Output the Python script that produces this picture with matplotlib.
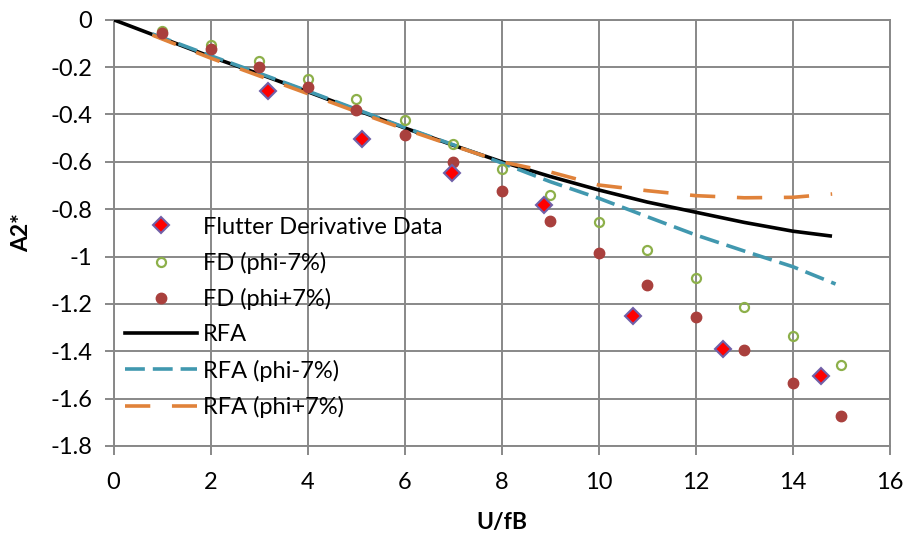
import matplotlib
matplotlib.use('Agg')
import matplotlib.pyplot as plt
from matplotlib.ticker import FuncFormatter

plt.rcParams['font.family'] = ['Lato', 'DejaVu Sans']

# flutter derivative data (diamonds)
fd_x = [3.18, 5.12, 6.97, 8.88, 10.71, 12.57, 14.57]
fd_y = [-0.300, -0.505, -0.646, -0.783, -1.250, -1.389, -1.503]

# FD with phi -7% / +7%
fd_pm_x = [1, 2, 3, 4, 5, 6, 7, 8, 9, 10, 11, 12, 13, 14, 15]
fd_minus_y = [-0.048, -0.107, -0.174, -0.250, -0.335, -0.425, -0.525, -0.630,
              -0.740, -0.854, -0.971, -1.092, -1.213, -1.334, -1.459]
fd_plus_y = [-0.055, -0.124, -0.198, -0.283, -0.380, -0.486, -0.602, -0.725,
             -0.851, -0.984, -1.119, -1.255, -1.394, -1.533, -1.672]

# rational function approximations
rfa_x = [0, 1, 2, 3, 4, 5, 6, 7, 8, 9, 10, 11, 12, 13, 14, 14.77]
rfa_y = [0, -0.078, -0.156, -0.229, -0.304, -0.381, -0.457, -0.530, -0.600,
         -0.662, -0.719, -0.770, -0.813, -0.856, -0.893, -0.913]

rfa_m_x = [0.8, 2, 3, 4, 5, 6, 7, 8, 9, 10, 11, 12, 13, 14, 14.88]
rfa_m_y = [-0.060, -0.152, -0.226, -0.301, -0.378, -0.455, -0.528, -0.605,
           -0.684, -0.754, -0.832, -0.909, -0.977, -1.043, -1.116]

rfa_p_x = [0.8, 2, 3, 4, 5, 6, 7, 8, 9, 10, 11, 12, 13, 14, 14.81]
rfa_p_y = [-0.065, -0.162, -0.237, -0.312, -0.388, -0.462, -0.532, -0.600,
           -0.643, -0.698, -0.722, -0.743, -0.752, -0.750, -0.736]

fig = plt.figure(figsize=(9.09, 5.37), dpi=100)
ax = fig.add_axes([0.1249, 0.1695, 0.979 - 0.1249, 0.9633 - 0.1695])

ax.plot(fd_x, fd_y, linestyle='none', marker='D', markersize=8,
        markerfacecolor='#FF0000', markeredgecolor='#7060A8', markeredgewidth=1.5,
        label='Flutter Derivative Data', zorder=5)
ax.plot(fd_pm_x, fd_minus_y, linestyle='none', marker='o', markersize=6.5,
        markerfacecolor='none', markeredgecolor='#8DB04A', markeredgewidth=1.6,
        label='FD (phi-7%)', zorder=4)
ax.plot(fd_pm_x, fd_plus_y, linestyle='none', marker='o', markersize=7.5,
        markerfacecolor='#A9403D', markeredgecolor='#A9403D',
        label='FD (phi+7%)', zorder=4)
ax.plot(rfa_x, rfa_y, color='black', lw=2.6, label='RFA', zorder=3)
ax.plot(rfa_m_x, rfa_m_y, color='#4198AF', lw=2.6, dashes=(5.5, 2.2),
        label='RFA (phi-7%)', zorder=3)
ax.plot(rfa_p_x, rfa_p_y, color='#E0823A', lw=2.6, dashes=(7, 6),
        label='RFA (phi+7%)', zorder=3)

ax.set_xlim(0, 16)
ax.set_ylim(-1.8, 0)
ax.set_xticks(range(0, 17, 2))
ax.set_yticks([-1.8 + 0.2 * i for i in range(10)])
ax.yaxis.set_major_formatter(FuncFormatter(lambda v, p: f'{round(v, 1):g}'))
ax.grid(True, color='#888888', lw=1.4)
ax.set_axisbelow(True)
for s in ax.spines.values():
    s.set_color('#888888')
    s.set_linewidth(1.4)
ax.tick_params(direction='out', length=6.5, width=1.4, color='#888888',
               labelsize=17)
ax.tick_params(axis='x', pad=12)
ax.tick_params(axis='y', pad=9)

ax.set_xlabel('U/fB', fontsize=16.5, fontweight='bold', labelpad=14)
ax.set_ylabel('A2*', fontsize=16.5, fontweight='bold', labelpad=13)

ax.legend(loc='upper left', bbox_to_anchor=(0.003, 0.56), frameon=False,
          fontsize=17, handlelength=3.05, labelspacing=0.6,
          handletextpad=0.25, borderaxespad=0.0)

fig.savefig('out.png', dpi=100)
